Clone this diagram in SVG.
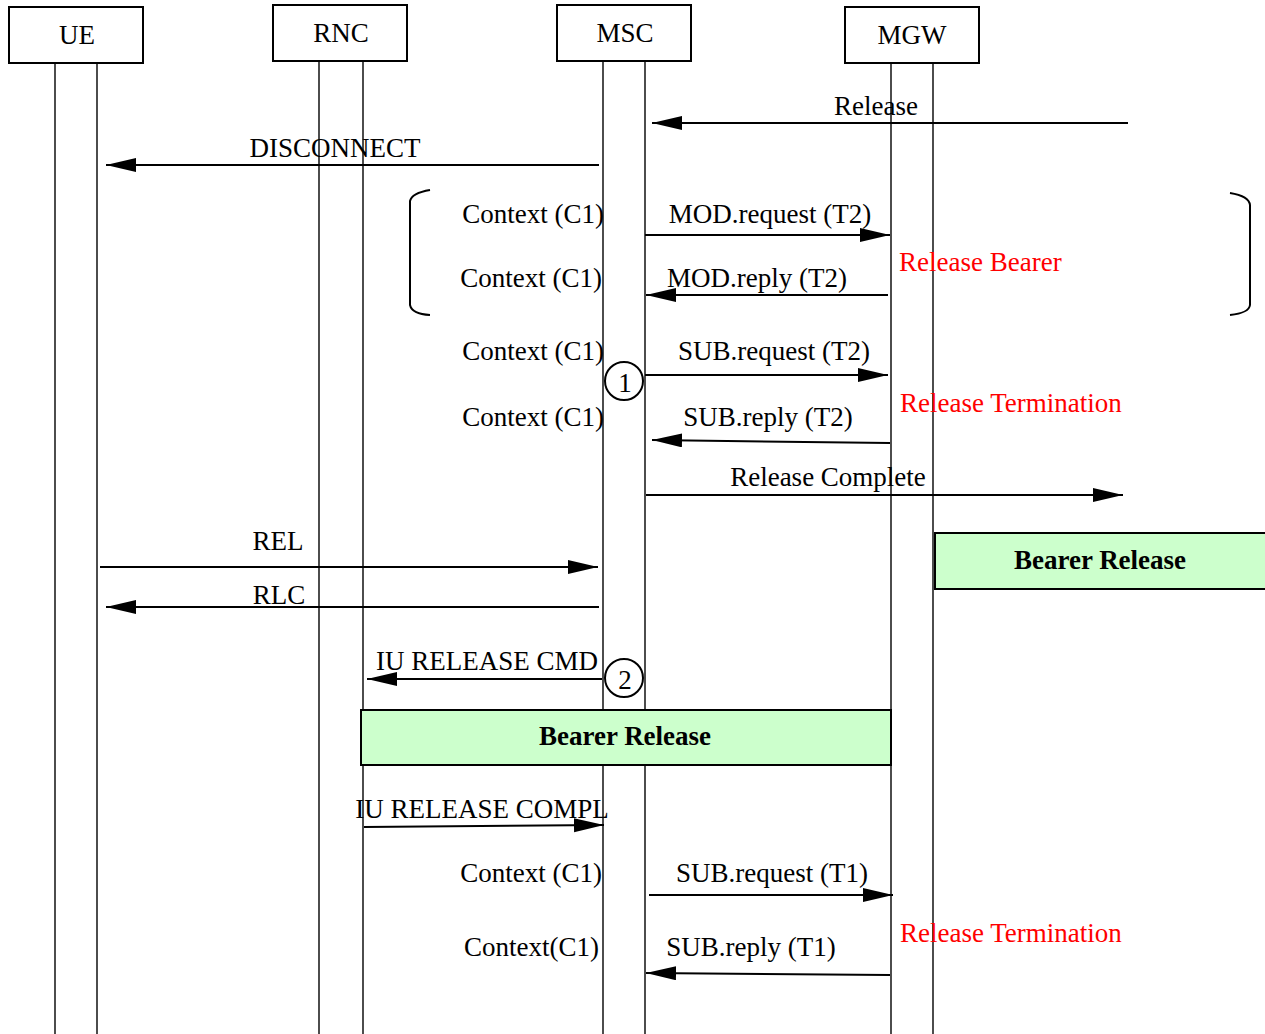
<svg xmlns="http://www.w3.org/2000/svg" width="1265" height="1034" viewBox="0 0 1265 1034">
<style>
text{font-family:"Liberation Serif","Times New Roman",serif;font-size:27px;fill:#000}
.m{text-anchor:middle}
.r{text-anchor:end}
.red{fill:#ff0000}
.b{font-weight:bold;text-anchor:middle}
.hdr{fill:#fff;stroke:#000;stroke-width:2}
.life{stroke:#000;stroke-width:1.4;fill:none}
.msg{stroke:#000;stroke-width:2;fill:none;marker-end:url(#ah)}
.box{fill:#ccffcc;stroke:#000;stroke-width:2}
.brk{stroke:#000;stroke-width:2;fill:none}
.circ{fill:#fff;stroke:#000;stroke-width:2}
</style>
<defs>
<marker id="ah" markerUnits="userSpaceOnUse" markerWidth="32" markerHeight="16" refX="30" refY="7" orient="auto">
<path d="M0,0 L30,7 L0,14 z" fill="#000"/>
</marker>
</defs>
<rect width="1265" height="1034" fill="#fff"/>
<g id="lifelines">
<line class="life" x1="55" y1="63" x2="55" y2="1034"/>
<line class="life" x1="97" y1="63" x2="97" y2="1034"/>
<line class="life" x1="319" y1="61" x2="319" y2="1034"/>
<line class="life" x1="363" y1="61" x2="363" y2="1034"/>
<line class="life" x1="603" y1="61" x2="603" y2="1034"/>
<line class="life" x1="645" y1="61" x2="645" y2="1034"/>
<line class="life" x1="891" y1="63" x2="891" y2="1034"/>
<line class="life" x1="933" y1="63" x2="933" y2="1034"/>
</g>
<g id="node-UE"><rect class="hdr" x="9" y="7" width="134" height="56"/><text class="m" x="77" y="44">UE</text></g>
<g id="node-RNC"><rect class="hdr" x="273" y="5" width="134" height="56"/><text class="m" x="341" y="42">RNC</text></g>
<g id="node-MSC"><rect class="hdr" x="557" y="5" width="134" height="56"/><text class="m" x="625" y="42">MSC</text></g>
<g id="node-MGW"><rect class="hdr" x="845" y="7" width="134" height="56"/><text class="m" x="912" y="44">MGW</text></g>
<g id="brackets">
<path class="brk" d="M430,190 Q412,193 410,201 L410,305 Q412,314 430,315"/>
<path class="brk" d="M1230,193 Q1249,196 1250,205 L1250,305 Q1249,313 1230,315"/>
</g>
<g id="bearer-release-1"><rect class="box" x="935" y="533" width="332" height="56"/><text class="b" x="1100" y="569">Bearer Release</text></g>
<g id="bearer-release-2"><rect class="box" x="361" y="710" width="530" height="55"/><text class="b" x="625" y="745">Bearer Release</text></g>
<g id="connectors">
<line class="msg" x1="1128" y1="123" x2="652" y2="123"/>
<line class="msg" x1="599" y1="165" x2="106" y2="165"/>
<line class="msg" x1="645" y1="235" x2="890" y2="235"/>
<line class="msg" x1="888" y1="295" x2="646" y2="295"/>
<line class="msg" x1="645" y1="375" x2="888" y2="375"/>
<line class="msg" x1="890" y1="443" x2="652" y2="440"/>
<line class="msg" x1="646" y1="495" x2="1123" y2="495"/>
<line class="msg" x1="100" y1="567" x2="598" y2="567"/>
<line class="msg" x1="599" y1="607" x2="106" y2="607"/>
<line class="msg" x1="602" y1="679" x2="367" y2="679"/>
<line class="msg" x1="364" y1="827" x2="604" y2="825"/>
<line class="msg" x1="649" y1="895" x2="893" y2="895"/>
<line class="msg" x1="890" y1="975" x2="646" y2="973"/>
</g>
<g id="markers">
<g id="circle-1"><circle class="circ" cx="624" cy="381" r="19"/><text class="m" x="625" y="392">1</text></g>
<g id="circle-2"><circle class="circ" cx="624" cy="678" r="19"/><text class="m" x="625" y="689">2</text></g>
</g>
<g id="labels">
<text class="m" x="876" y="115">Release</text>
<text class="m" x="335" y="157">DISCONNECT</text>
<text class="r" x="604" y="223">Context (C1)</text>
<text class="m" x="770" y="223">MOD.request (T2)</text>
<text class="r" x="602" y="287">Context (C1)</text>
<text class="m" x="757" y="287">MOD.reply (T2)</text>
<text class="red" x="899" y="271">Release Bearer</text>
<text class="r" x="604" y="360">Context (C1)</text>
<text class="m" x="774" y="360">SUB.request (T2)</text>
<text class="r" x="604" y="426">Context (C1)</text>
<text class="m" x="768" y="426">SUB.reply (T2)</text>
<text class="red" x="900" y="412">Release Termination</text>
<text class="m" x="828" y="486">Release Complete</text>
<text class="m" x="278" y="550">REL</text>
<text class="m" x="279" y="604">RLC</text>
<text class="m" x="487" y="670">IU RELEASE CMD</text>
<text class="m" x="482" y="818">IU RELEASE COMPL</text>
<text class="r" x="602" y="882">Context (C1)</text>
<text class="m" x="772" y="882">SUB.request (T1)</text>
<text class="r" x="599" y="956">Context(C1)</text>
<text class="m" x="751" y="956">SUB.reply (T1)</text>
<text class="red" x="900" y="942">Release Termination</text>
</g>
</svg>
